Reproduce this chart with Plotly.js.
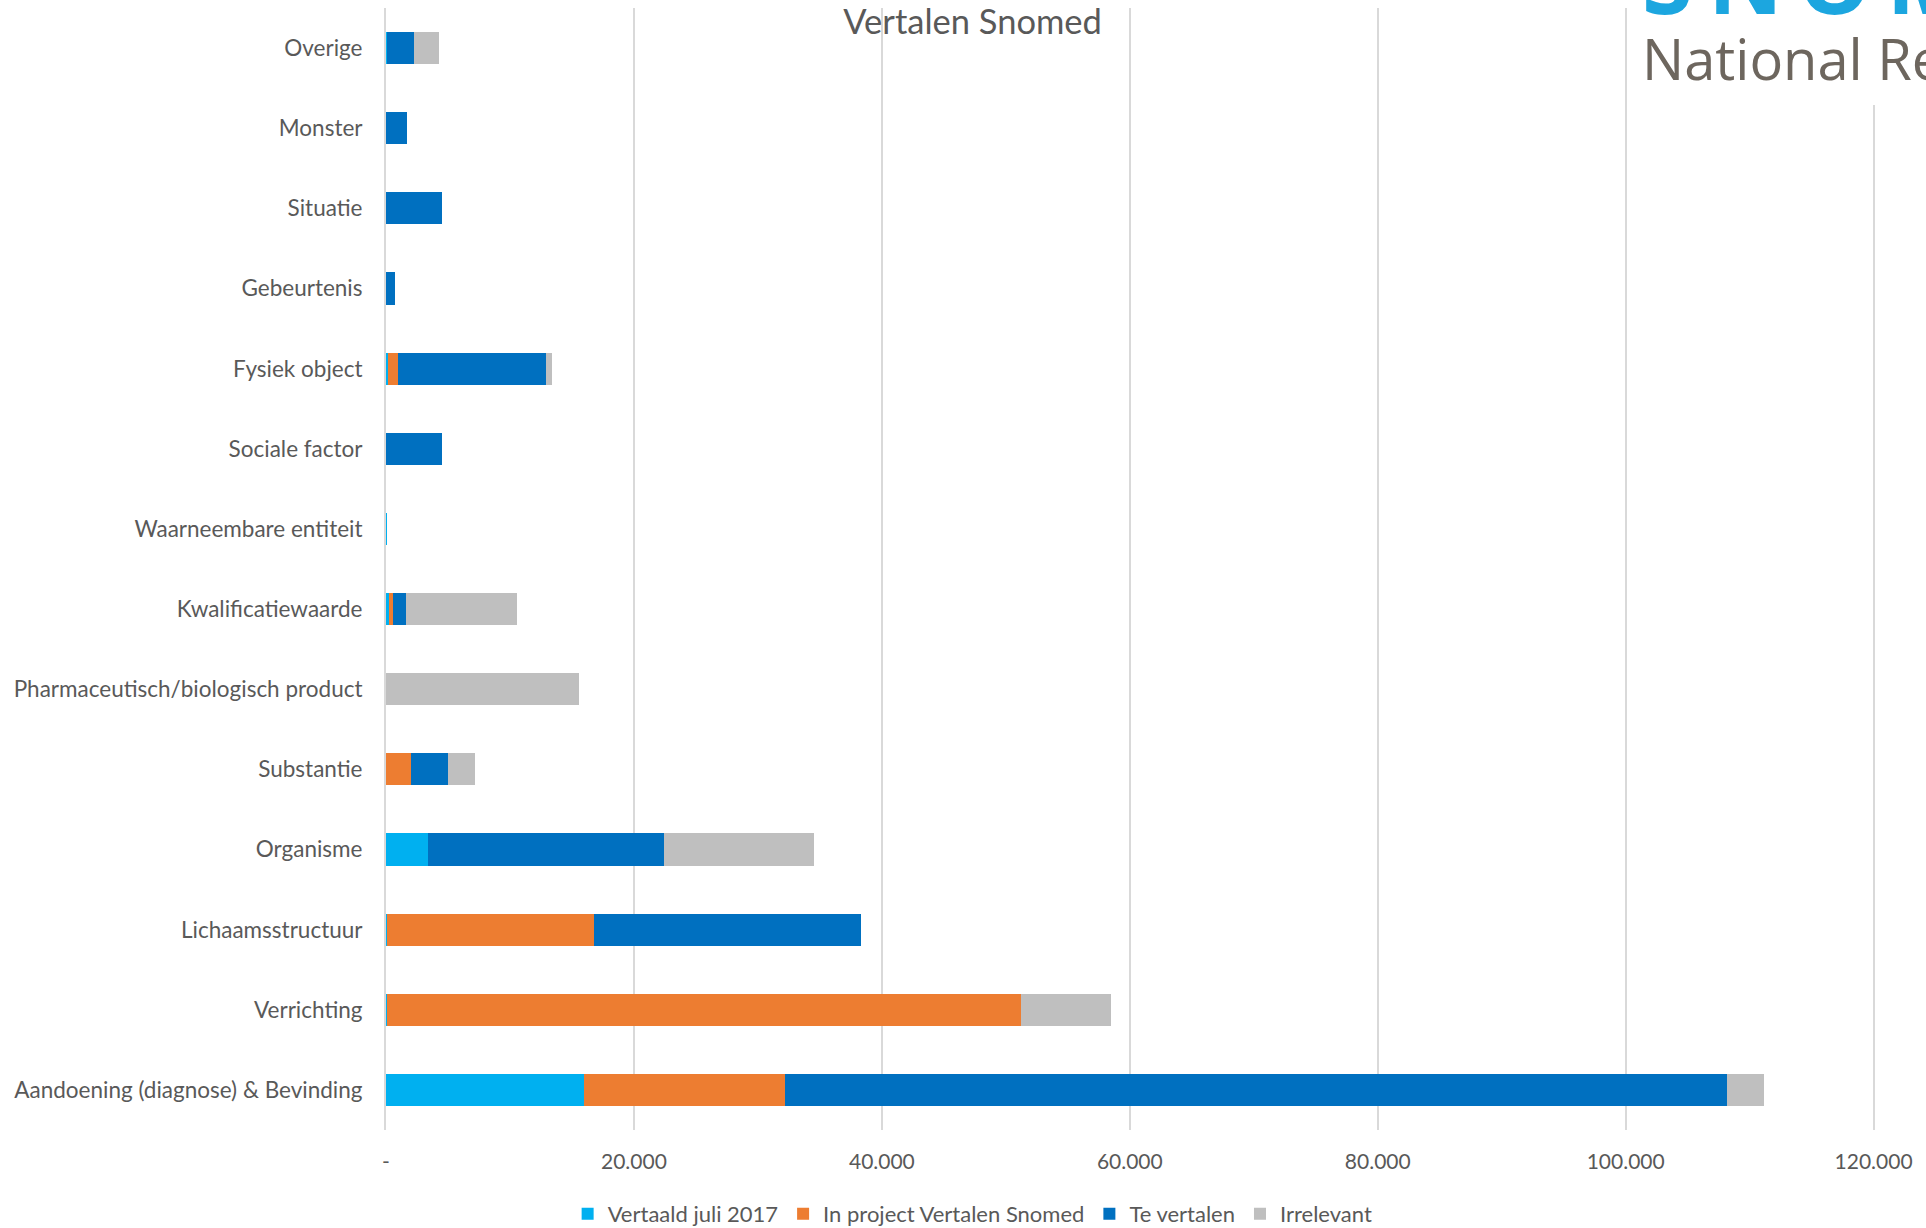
<!DOCTYPE html>
<html>
<head>
<meta charset="utf-8">
<script src="https://cdn.plot.ly/plotly-3.0.1.min.js"></script>
<style>html,body{margin:0;padding:0;background:#fff;}#chart{width:1926px;height:1228px;}</style>
</head>
<body>
<div id="chart"></div>
<script>
// Categories, top to bottom as shown
const categories = ["Overige","Monster","Situatie","Gebeurtenis","Fysiek object","Sociale factor","Waarneembare entiteit","Kwalificatiewaarde","Pharmaceutisch/biologisch product","Substantie","Organisme","Lichaamsstructuur","Verrichting","Aandoening (diagnose) & Bevinding"];
const vertaaldJuli2017   = [100, 0, 0, 0, 200, 0, 100, 240, 0, 0, 3400, 100, 100, 16000];
const inProjectVertalen  = [0, 0, 0, 0, 740, 0, 0, 300, 0, 2000, 0, 16670, 51110, 16180];
const teVertalen         = [2150, 1690, 4520, 720, 11960, 4540, 0, 1075, 0, 3000, 19010, 21510, 0, 75970];
const irrelevant         = [2040, 0, 0, 0, 510, 0, 0, 8975, 15530, 2150, 12150, 0, 7260, 3000];
const seriesNames = ["Vertaald juli 2017","In project Vertalen Snomed","Te vertalen","Irrelevant"];
const tickVals = [0, 20000, 40000, 60000, 80000, 100000, 120000];
const tickText = ["-", "20.000", "40.000", "60.000", "80.000", "100.000", "120.000"];

const colors = ["#00B0F0", "#ED7D31", "#0070C0", "#BFBFBF"];
const seriesData = [vertaaldJuli2017, inProjectVertalen, teVertalen, irrelevant];
const FONT = "Lato, 'Open Sans', sans-serif";

const traces = seriesData.map((vals, i) => ({
  type: 'bar',
  orientation: 'h',
  name: seriesNames[i],
  y: categories,
  x: vals,
  marker: {color: colors[i], line: {width: 0}},
  hoverinfo: 'x+name'
}));

const layout = {
  width: 1926, height: 1228,
  barmode: 'stack',
  bargap: 0.6,
  margin: {l: 386, r: 40, t: 8, b: 98, autoexpand: false},
  paper_bgcolor: '#ffffff',
  plot_bgcolor: '#ffffff',
  font: {family: FONT, color: '#595959', size: 21},
  title: {
    text: 'Vertalen Snomed',
    font: {family: FONT, size: 34.5, color: '#595959'},
    xref: 'container', yref: 'container',
    x: 0.505, xanchor: 'center', y: 0.982, yanchor: 'middle'
  },
  xaxis: {
    range: [0, 121000],
    tickvals: tickVals, ticktext: tickText,
    showgrid: true, gridcolor: '#d9d9d9', gridwidth: 2,
    zeroline: false, showline: false,
    ticks: '', ticklabelstandoff: 17,
    tickfont: {family: FONT, size: 21, color: '#595959'},
    fixedrange: true
  },
  yaxis: {
    type: 'category',
    autorange: 'reversed',
    showgrid: false, zeroline: false,
    showline: true, linecolor: '#d9d9d9', linewidth: 2,
    ticks: '', ticklabelstandoff: 17,
    tickfont: {family: FONT, size: 22.5, color: '#595959'},
    fixedrange: true
  },
  legend: {
    orientation: 'h',
    xref: 'container', yref: 'container',
    x: 0.505, xanchor: 'center',
    y: (1228 - 1214) / 1228, yanchor: 'middle',
    font: {family: FONT, size: 22, color: '#595959'},
    traceorder: 'normal',
    itemclick: false, itemdoubleclick: false
  },
  shapes: [{
    type: 'rect', xref: 'paper', yref: 'paper', layer: 'above',
    x0: (1634 - 386) / 1500, x1: 1.04, y0: 0.9135, y1: 1.01,
    fillcolor: '#ffffff', line: {width: 0}
  }],
  annotations: [
    {
      text: '<b>S\u2009N\u2009O\u2009M\u2009E\u2009D</b>', xref: 'paper', yref: 'paper',
      x: (1640 - 386) / 1500, xanchor: 'left', y: 1.026, yanchor: 'middle',
      showarrow: false,
      font: {family: "'Open Sans', sans-serif", size: 92, color: '#1CA6DF'}
    },
    {
      text: 'National Release Center', xref: 'paper', yref: 'paper',
      x: (1640 - 386) / 1500, xanchor: 'left', y: (1130 - 58) / 1122, yanchor: 'middle',
      showarrow: false,
      font: {family: "'Open Sans', sans-serif", size: 56, color: '#6D665E'}
    }
  ],
  showlegend: true
};

Plotly.newPlot('chart', traces, layout, {displayModeBar: false, staticPlot: true});
</script>
</body>
</html>
